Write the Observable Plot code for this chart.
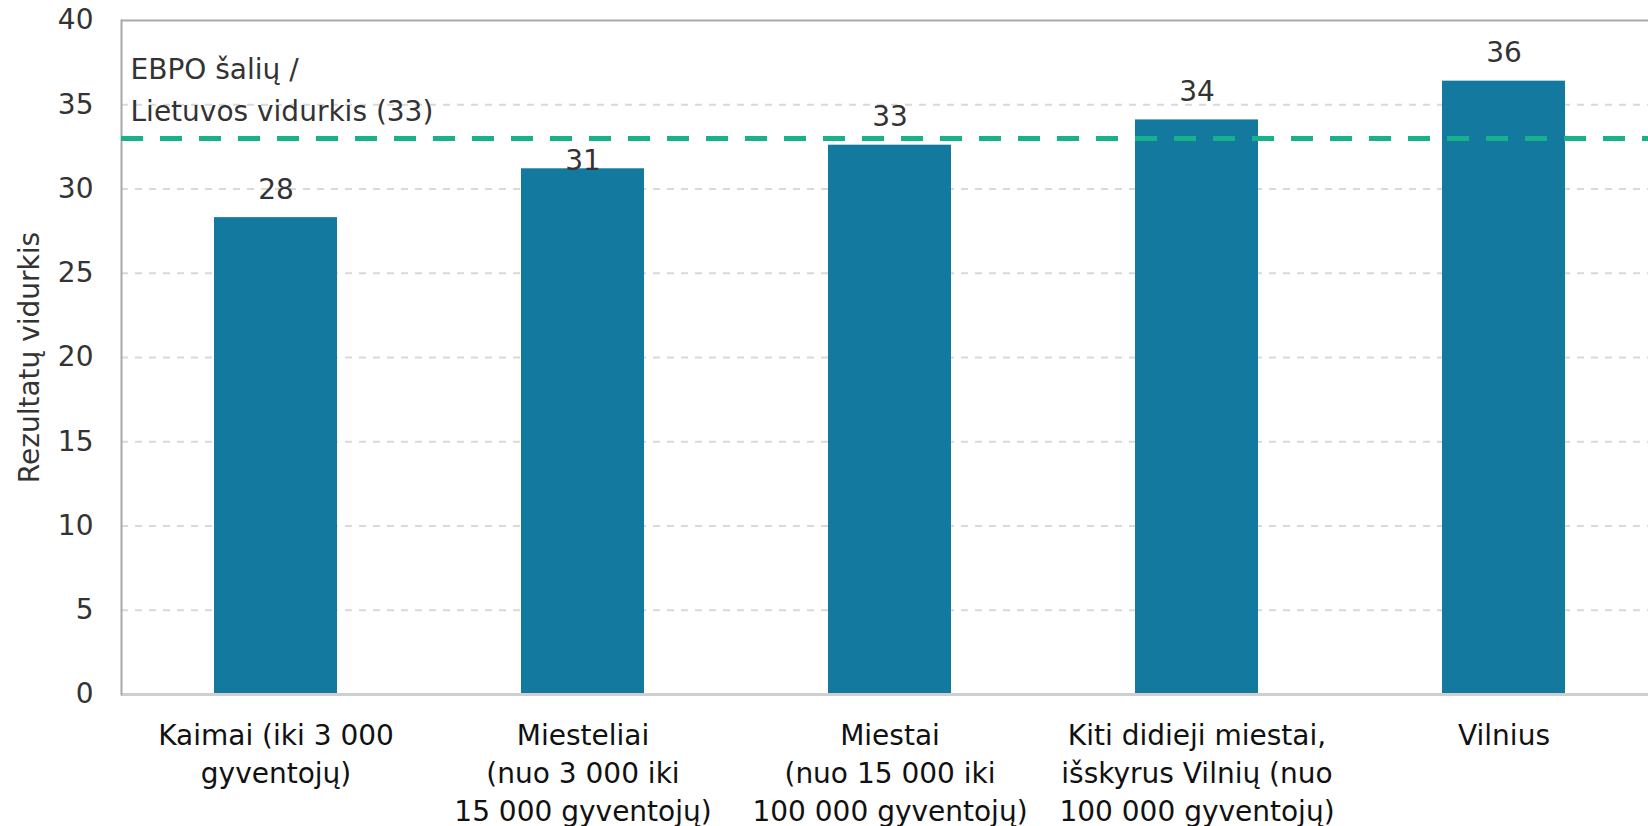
<!DOCTYPE html>
<html>
<head>
<meta charset="utf-8">
<script src="https://cdn.jsdelivr.net/npm/d3@7"></script>
<script src="https://cdn.jsdelivr.net/npm/@observablehq/plot@0.6"></script>
<style>
  html, body { margin: 0; padding: 0; background: #fff; overflow: hidden; }
  #chart { width: 1648px; height: 826px; }
</style>
</head>
<body>
<div id="chart"></div>
<script>
const categories = ["Kaimai", "Miesteliai", "Miestai", "Kiti didieji miestai", "Vilnius"];
const tickLabels = [
  "Kaimai (iki 3 000\ngyventojų)",
  "Miesteliai\n(nuo 3 000 iki\n15 000 gyventojų)",
  "Miestai\n(nuo 15 000 iki\n100 000 gyventojų)",
  "Kiti didieji miestai,\nišskyrus Vilnių (nuo\n100 000 gyventojų)",
  "Vilnius"
];
const values = [28.3, 31.2, 32.6, 34.1, 36.4];
const valueLabels = ["28", "31", "33", "34", "36"];
const averageValue = 33;
const averageLabel = "EBPO šalių /\nLietuvos vidurkis (33)";
const yTicks = [0, 5, 10, 15, 20, 25, 30, 35, 40];
const gridTicks = [5, 10, 15, 20, 25, 30, 35];
const yTitle = "Rezultatų vidurkis";

const data = categories.map((c, i) => ({cat: c, value: values[i], label: valueLabels[i]}));

const W = 1648, H = 826;
const mLeft = 121, mTop = 20, mBottom = 132;

const chart = Plot.plot({
  width: W,
  height: H,
  marginLeft: mLeft,
  marginTop: mTop,
  marginBottom: mBottom,
  marginRight: 0,
  style: {fontFamily: "DejaVu Sans", fontSize: "28px", color: "#333", background: "#fff", overflow: "hidden"},
  x: {domain: categories, range: [mLeft, 1658], paddingInner: 0.6, paddingOuter: 0.3, axis: null},
  y: {domain: [0, 40], range: [H - mBottom, mTop], axis: null},
  marks: [
    Plot.ruleY(gridTicks, {stroke: "#d9d9d9", strokeWidth: 2, strokeDasharray: "7,7"}),
    Plot.ruleY([40], {stroke: "#aaaaaa", strokeWidth: 2}),
    Plot.barY(data, {x: "cat", y: "value", fill: "#14799f"}),
    Plot.ruleY([0], {stroke: "#cfcfcf", strokeWidth: 3}),
    Plot.frame({anchor: "left", stroke: "#a8a8a8", strokeWidth: 2}),
    Plot.ruleY([averageValue], {stroke: "#17b18a", strokeWidth: 5, strokeDasharray: "22,17"}),
    Plot.text(data.filter(d => d.label !== "31"), {x: "cat", y: "value", text: "label", dy: -28, fill: "#333", fontSize: 28}),
    Plot.text(data.filter(d => d.label === "31"), {x: "cat", y: "value", text: "label", dy: -8, fill: "#333", fontSize: 28}),
    Plot.text([averageLabel], {frameAnchor: "top-left", dx: 9, dy: 66, lineAnchor: "middle", textAnchor: "start", lineHeight: 1.5, fill: "#333", fontSize: 28}),
    Plot.axisY(yTicks, {tickSize: 0, tickPadding: 28, fontSize: 28, fill: "#333", label: yTitle, labelAnchor: "center", labelArrow: "none", labelOffset: 102}),
    Plot.axisX(categories, {x: d => d, label: null, tickSize: 0, tickPadding: 24, tickFormat: d => tickLabels[categories.indexOf(d)], lineHeight: 1.35, fontSize: 28, fill: "#111"})
  ]
});
document.getElementById("chart").append(chart);
</script>
</body>
</html>
